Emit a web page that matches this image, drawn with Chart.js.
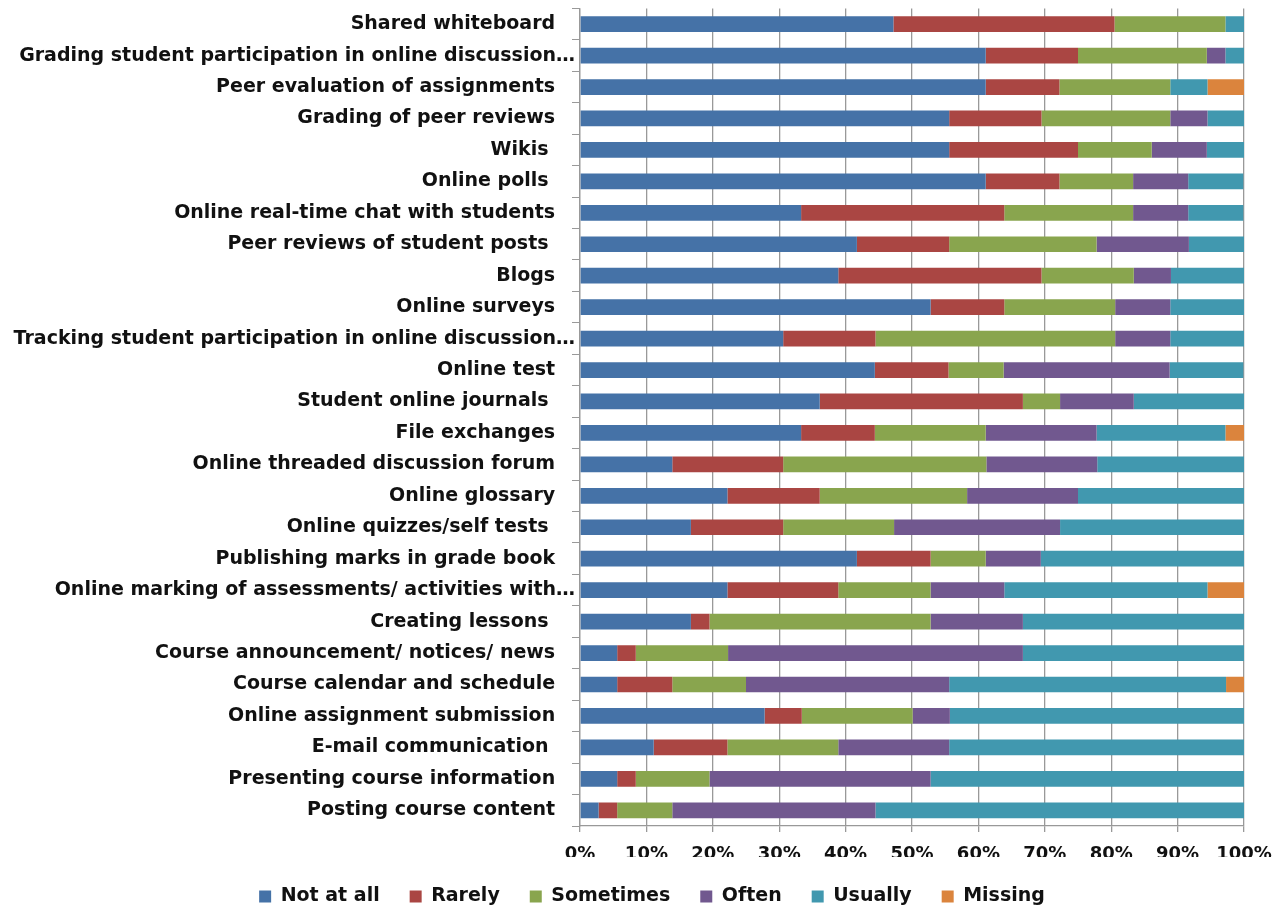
<!DOCTYPE html>
<html lang="en">
<head>
<meta charset="UTF-8">
<title>Use of online tools</title>
<script src="https://cdn.jsdelivr.net/npm/chart.js"></script>
<style>
        html, body {
            margin: 0;
            padding: 0;
            background: #fff;
        }
        #chart-container {
            width: 1285px;
            height: 908px;
        }
</style>
</head>
<body>
<div id="chart-container">
<canvas id="toolsChart"></canvas>
</div>
<script>
        // categories, top to bottom
        const tools = [
            'Shared whiteboard',
            'Grading student participation in online discussion…',
            'Peer evaluation of assignments',
            'Grading of peer reviews',
            'Wikis ',
            'Online polls ',
            'Online real-time chat with students',
            'Peer reviews of student posts ',
            'Blogs',
            'Online surveys',
            'Tracking student participation in online discussion…',
            'Online test',
            'Student online journals ',
            'File exchanges',
            'Online threaded discussion forum',
            'Online glossary',
            'Online quizzes/self tests ',
            'Publishing marks in grade book',
            'Online marking of assessments/ activities with…',
            'Creating lessons ',
            'Course announcement/ notices/ news',
            'Course calendar and schedule',
            'Online assignment submission',
            'E-mail communication ',
            'Presenting course information',
            'Posting course content'
        ];

        // percent of respondents
        const notAtAll  = [47.2, 61.1, 61.1, 55.6, 55.6, 61.1, 33.3, 41.7, 38.9, 52.8, 30.6, 44.4, 36.1, 33.3, 13.9, 22.2, 16.7, 41.7, 22.2, 16.7, 5.6, 5.6, 27.8, 11.1, 5.6, 2.8];
        const rarely    = [33.3, 13.9, 11.1, 13.9, 19.4, 11.1, 30.6, 13.9, 30.6, 11.1, 13.9, 11.1, 30.6, 11.1, 16.7, 13.9, 13.9, 11.1, 16.7, 2.8, 2.8, 8.3, 5.6, 11.1, 2.8, 2.8];
        const sometimes = [16.7, 19.4, 16.7, 19.4, 11.1, 11.1, 19.4, 22.2, 13.9, 16.7, 36.1, 8.3, 5.6, 16.7, 30.6, 22.2, 16.7, 8.3, 13.9, 33.3, 13.9, 11.1, 16.7, 16.7, 11.1, 8.3];
        const often     = [0, 2.8, 0, 5.6, 8.3, 8.3, 8.3, 13.9, 5.6, 8.3, 8.3, 25.0, 11.1, 16.7, 16.7, 16.7, 25.0, 8.3, 11.1, 13.9, 44.4, 30.6, 5.6, 16.7, 33.3, 30.6];
        const usually   = [2.8, 2.8, 5.6, 5.6, 5.6, 8.3, 8.3, 8.3, 11.1, 11.1, 11.1, 11.1, 16.7, 19.4, 22.2, 25.0, 27.8, 30.6, 30.6, 33.3, 33.3, 41.7, 44.4, 44.4, 47.2, 55.6];
        const missing   = [0, 0, 5.6, 0, 0, 0, 0, 0, 0, 0, 0, 0, 0, 2.8, 0, 0, 0, 0, 5.6, 0, 0, 2.8, 0, 0, 0, 0];

        const xTicks = [0, 10, 20, 30, 40, 50, 60, 70, 80, 90, 100];

        const catFont = { family: '"DejaVu Sans", sans-serif', size: 19, weight: 'bold' };
        const tickFont = { family: '"DejaVu Sans", sans-serif', size: 18, weight: 'bold' };

        // nudge the legend a bit to the right, like the original
        const shiftLegend = {
            id: 'shiftLegend',
            afterLayout(chart) {
                chart.legend.left += 60;
            }
        };

        const ctx = document.getElementById('toolsChart').getContext('2d');
        new Chart(ctx, {
            type: 'bar',
            data: {
                labels: tools,
                datasets: [
                    { label: 'Not at all', data: notAtAll,  backgroundColor: '#4572A7' },
                    { label: 'Rarely',     data: rarely,    backgroundColor: '#AA4643' },
                    { label: 'Sometimes',  data: sometimes, backgroundColor: '#89A54E' },
                    { label: 'Often',      data: often,     backgroundColor: '#71588F' },
                    { label: 'Usually',    data: usually,   backgroundColor: '#4198AF' },
                    { label: 'Missing',    data: missing,   backgroundColor: '#DB843D' }
                ]
            },
            options: {
                indexAxis: 'y',
                responsive: true,
                maintainAspectRatio: false,
                animation: false,
                datasets: {
                    bar: { barPercentage: 1, categoryPercentage: 0.5, borderWidth: 0 }
                },
                layout: { padding: { top: 5, right: 41, left: 0, bottom: -8 } },
                plugins: {
                    tooltip: { enabled: false },
                    legend: {
                        position: 'bottom',
                        labels: {
                            font: catFont,
                            color: '#111',
                            boxWidth: 12,
                            boxHeight: 12,
                            padding: 30
                        }
                    }
                },
                scales: {
                    x: {
                        stacked: true,
                        min: 0,
                        max: 100,
                        afterBuildTicks: axis => { axis.ticks = xTicks.map(v => ({ value: v })); },
                        afterFit: axis => { axis.height = 31; },
                        grid: { color: '#999', lineWidth: 1.3, tickLength: 6 },
                        border: { color: '#999', width: 1.3 },
                        ticks: {
                            font: tickFont,
                            color: '#111',
                            padding: 12,
                            maxRotation: 0,
                            callback: v => v + '%'
                        }
                    },
                    y: {
                        stacked: true,
                        afterFit: axis => { axis.width = 580; },
                        grid: { drawOnChartArea: false, color: '#999', tickLength: 8 },
                        border: { color: '#999', width: 1.3 },
                        ticks: {
                            font: catFont,
                            color: '#111',
                            padding: -3,
                            autoSkip: false,
                            callback: function (v) {
                                const s = this.getLabelForValue(v);
                                return s.endsWith('…') ? s : s + '   ';
                            }
                        }
                    }
                }
            },
            plugins: [shiftLegend]
        });
</script>
</body>
</html>
